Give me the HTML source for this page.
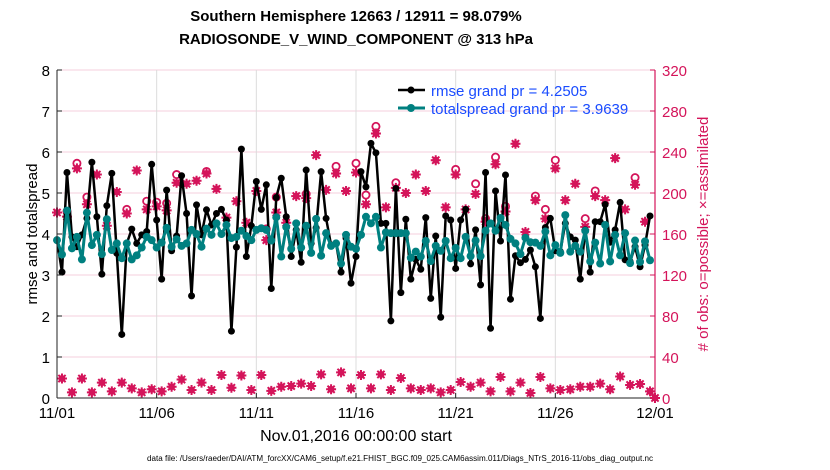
<!DOCTYPE html>
<html><head><meta charset="utf-8">
<style>
body{margin:0;background:#fff;}
svg{display:block;font-family:"Liberation Sans",Arial,sans-serif;}
</style></head>
<body>
<svg id="chart" width="830" height="470" viewBox="0 0 830 470">
<rect width="830" height="470" fill="#fff"/>
<text x="356" y="21" text-anchor="middle" font-size="15" font-weight="bold">Southern Hemisphere 12663 / 12911 = 98.079%</text>
<text x="356" y="44" text-anchor="middle" font-size="15" font-weight="bold">RADIOSONDE_V_WIND_COMPONENT @ 313 hPa</text>
<g id="grid"></g>
<g id="obs"></g>
<g id="lines"></g>
<g id="axes"></g>
<text transform="translate(37,234) rotate(-90)" text-anchor="middle" font-size="15">rmse and totalspread</text>
<text transform="translate(708,234) rotate(-90)" text-anchor="middle" font-size="15" fill="#d4145a"># of obs: o=possible; ×=assimilated</text>
<text x="356" y="441" text-anchor="middle" font-size="16">Nov.01,2016 00:00:00 start</text>
<text x="147" y="461" font-size="8" textLength="506" lengthAdjust="spacingAndGlyphs">data file: /Users/raeder/DAI/ATM_forcXX/CAM6_setup/f.e21.FHIST_BGC.f09_025.CAM6assim.011/Diags_NTrS_2016-11/obs_diag_output.nc</text>
<g>
<line x1="398" y1="90" x2="425" y2="90" stroke="#000" stroke-width="2.5"/>
<circle cx="411" cy="90" r="3.5" fill="#000"/>
<text x="431" y="96" font-size="15" fill="#1a4cff">rmse grand pr = 4.2505</text>
<line x1="398" y1="108" x2="425" y2="108" stroke="#008080" stroke-width="3"/>
<circle cx="411" cy="108" r="4" fill="#008080"/>
<text x="431" y="114" font-size="15" fill="#1a4cff">totalspread grand pr = 3.9639</text>
</g>
</svg>
<script>
const rmse=[3.85,3.07,5.50,3.93,3.69,3.98,4.38,5.75,4.42,3.02,4.69,5.48,3.53,1.55,3.77,4.12,3.77,3.98,4.06,5.70,4.34,2.90,5.07,3.59,3.95,5.42,4.50,2.49,4.71,3.98,4.59,4.22,4.50,4.60,4.34,1.63,3.68,6.07,3.45,4.20,5.28,
4.60,5.20,2.67,4.89,5.36,4.42,3.45,4.10,3.31,5.56,3.77,4.15,5.52,4.38,3.73,3.77,3.07,3.90,2.80,3.45,5.52,5.15,6.21,5.98,4.26,4.26,1.88,5.11,2.57,4.36,2.90,3.38,3.14,4.40,2.43,3.95,1.97,4.44,4.34,
3.16,4.34,4.60,3.27,4.10,2.76,5.50,1.70,5.05,3.83,5.44,2.41,3.47,3.30,3.38,3.61,3.20,1.94,4.16,4.38,3.59,3.57,4.26,3.93,3.85,2.90,4.10,3.07,4.30,4.30,4.72,3.80,4.10,4.77,3.37,3.33,3.69,3.20,3.73,4.44];
const spread=[3.85,3.50,4.57,3.65,3.93,3.38,4.52,3.73,3.98,3.51,4.36,3.61,3.77,3.41,3.77,3.38,3.48,3.67,3.93,3.85,3.67,3.79,4.15,3.69,3.87,3.71,3.77,4.10,4.00,3.69,4.13,3.98,4.26,4.00,4.22,3.90,3.93,4.08,3.95,3.85,4.10,
4.14,4.10,3.84,4.41,3.45,4.17,3.64,4.26,3.67,4.20,3.54,4.37,3.47,4.02,3.71,3.77,3.28,3.98,3.69,3.64,3.98,4.42,4.26,4.42,3.67,4.04,4.02,4.02,4.02,4.02,3.42,3.57,3.45,3.83,3.34,3.71,3.59,3.83,3.41,
3.66,3.41,3.93,3.46,3.84,3.46,4.08,4.26,4.08,4.39,4.22,3.88,3.77,3.51,3.91,3.80,3.79,3.71,4.06,3.48,3.73,3.54,4.46,3.57,3.71,3.57,4.08,3.33,3.79,3.28,4.22,3.33,3.98,3.48,4.02,3.29,3.84,3.32,3.82,3.36];
const obsSynoptic=[181,177,224,189,218,168,201,180,222,184,187,183,210,209,212,219,204,176,192,171,202,154,181,171,197,195,237,203,219,202,220,189,258,186,205,200,218,202,232,186,218,184,199,172,228,182,248,162,193,175,224,193,209,167,197,193,234,184,208,172];
const possSynoptic=[182,182,229,196,219,168,201,184,222,192,191,190,218,209,212,221,204,176,192,171,202,165,196,171,197,199,237,203,226,202,229,198,265,186,210,200,218,202,232,186,223,184,209,175,235,187,248,162,197,184,232,193,209,175,202,193,234,184,215,172];
const obsOffHour=[19,5.5,19,5.5,15,6.5,15,9.4,5.5,8.5,6.5,11,18,7.8,15,7.8,22.4,10,22,7.8,22.4,7,11,11.7,14,11.7,23,8.5,25,9.4,22.4,9.4,23,7.8,19.5,9.4,7.8,9.4,5.5,7.8,15.6,11,15,6.5,20.5,6.5,15,4.9,20.5,9.4,7.8,8.5,11,11,14,8.5,21,12.7,13.6,6.5];
const obsFinal=[0];
const xTickLabels=["11/01","11/06","11/11","11/16","11/21","11/26","12/01"];
const yTicksLeft=[0,1,2,3,4,5,6,7,8];
const yTicksRight=[0,40,80,120,160,200,240,280,320];

const NS="http://www.w3.org/2000/svg";
const X0=57,X1=655,Y0=398,Y1=70,NSTEP=120;
const xs=i=>X0+i*(X1-X0)/NSTEP;
const yl=v=>Y0-v*(Y0-Y1)/8;
const yr=v=>Y0-v*(Y0-Y1)/320;
function mk(tag,attrs,parent){const e=document.createElementNS(NS,tag);for(const k in attrs)e.setAttribute(k,attrs[k]);parent.appendChild(e);return e;}
const grid=document.getElementById('grid'),axes=document.getElementById('axes'),obsG=document.getElementById('obs'),lines=document.getElementById('lines');

yTicksLeft.forEach(v=>{const l=mk('line',{x1:X0,x2:X1,y1:yl(v),y2:yl(v),stroke:'#f4cfdc','stroke-width':1},grid);

});
xTickLabels.forEach((t,k)=>{const x=xs(k*20);const l=mk('line',{x1:x,x2:x,y1:Y1,y2:Y0,stroke:'#dcdcdc','stroke-width':1},grid);


const tx=mk('text',{x:x,y:418,'text-anchor':'middle','font-size':15},axes);tx.textContent=t;


mk('line',{x1:x,x2:x,y1:Y0,y2:Y0-5,stroke:'#222'},axes);});
mk('line',{x1:X0,x2:X0,y1:Y1,y2:Y0,stroke:'#222','stroke-width':1},axes);
mk('line',{x1:X0,x2:X1,y1:Y0,y2:Y0,stroke:'#222','stroke-width':1},axes);
mk('line',{x1:X1,x2:X1,y1:Y1,y2:Y0,stroke:'#d4145a','stroke-width':1.2},axes);
yTicksLeft.forEach(v=>{mk('line',{x1:X0,x2:X0+5,y1:yl(v),y2:yl(v),stroke:'#222'},axes);
const t=mk('text',{x:X0-7,y:yl(v)+6,'text-anchor':'end','font-size':15},axes);t.textContent=v;

});
yTicksRight.forEach(v=>{mk('line',{x1:X1,x2:X1-5,y1:yr(v),y2:yr(v),stroke:'#d4145a'},axes);
const t=mk('text',{x:X1+7,y:yr(v)+6,'font-size':15,fill:'#d4145a'},axes);t.textContent=v;

});

const obsAll=[],possAll=[];
for(let k=0;k<60;k++){obsAll.push(obsSynoptic[k]);possAll.push(possSynoptic[k]);obsAll.push(obsOffHour[k]);possAll.push(obsOffHour[k]);}
obsFinal.forEach(v=>{obsAll.push(v);possAll.push(v);});
const C='#d4145a';
possAll.forEach((v,i)=>{if(v>obsAll[i]+1){const c=mk('circle',{cx:xs(i),cy:yr(v),r:3.6,fill:'#fff',stroke:C,'stroke-width':1.8},obsG);

}});
obsAll.forEach((v,i)=>{const g=mk('g',{transform:`translate(${xs(i)},${yr(v)})`},obsG);


mk('circle',{r:3.4,fill:C},g);
mk('path',{d:'M-5,0H5M0,-5V5M-3.6,-3.6L3.6,3.6M-3.6,3.6L3.6,-3.6',stroke:C,'stroke-width':2},g);});

function series(arr,color,w,r,name){
const pts=arr.map((v,i)=>xs(i)+','+yl(v)).join(' ');
const pl=mk('polyline',{points:pts,fill:'none',stroke:color,'stroke-width':w,'stroke-linejoin':'round'},lines);


arr.forEach((v,i)=>{const c=mk('circle',{cx:xs(i),cy:yl(v),r:r,fill:color},lines);

});}
series(rmse,'#000',2.5,3.5,'rmse');
series(spread,'#008080',3,4,'totalspread');
</script>
</body></html>
